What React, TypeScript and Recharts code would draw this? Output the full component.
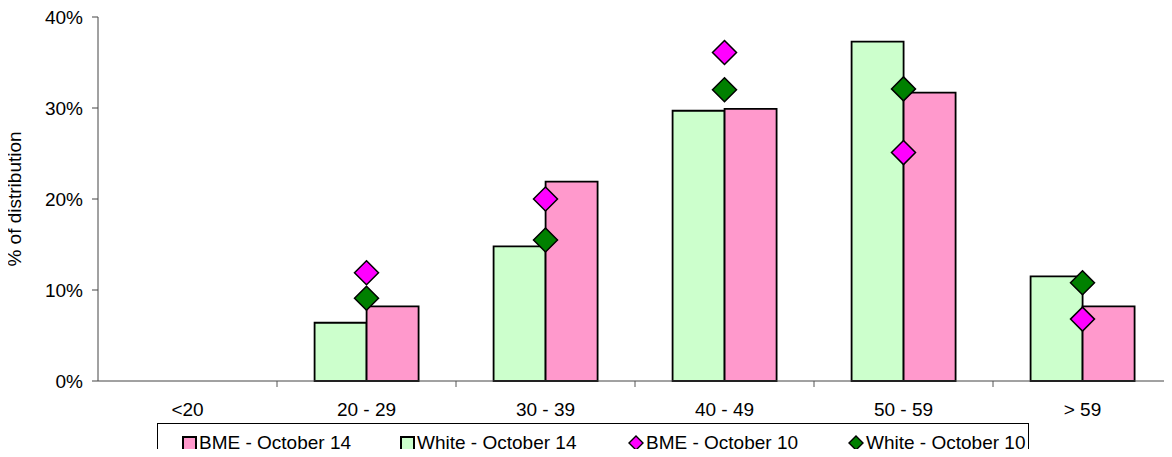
import React from "react";
import { ComposedChart, Bar, Line, XAxis, YAxis } from "recharts";

const categories = ["<20", "20 - 29", "30 - 39", "40 - 49", "50 - 59", "> 59"];
const bmeOct14 = [0, 8.2, 21.9, 29.9, 31.7, 8.2];
const whiteOct14 = [0, 6.4, 14.8, 29.7, 37.3, 11.5];
const bmeOct10: (number | null)[] = [null, 11.9, 20.0, 36.1, 25.1, 6.8];
const whiteOct10: (number | null)[] = [null, 9.1, 15.5, 32.0, 32.1, 10.8];
const yTicks = [0, 10, 20, 30, 40];

const FONT = "'Liberation Sans', Arial, sans-serif";
const FS = 19;
const W = 1172;
const H = 457;
const Y_AXIS_W = 98;
const BAND = (W - Y_AXIS_W) / categories.length;

const PINK = "#FF99CC";
const LIGHT_GREEN = "#CCFFCC";
const MAGENTA = "#FF00FF";
const DARK_GREEN = "#008000";

const data = categories.map((cat, i) => ({
  cat,
  bme14: bmeOct14[i],
  white14: whiteOct14[i],
  bme10: bmeOct10[i],
  white10: whiteOct10[i],
}));

// eslint-disable-next-line @typescript-eslint/no-explicit-any
const diamond = (fill: string) => (props: any) => {
  const { cx, cy, value, index } = props;
  if (cx == null || cy == null || value == null) return <g key={`d-${index}`} />;
  const r = 12;
  return (
    <path
      key={`d-${index}`}
      d={`M${cx},${cy - r} L${cx + r},${cy} L${cx},${cy + r} L${cx - r},${cy} Z`}
      fill={fill}
      stroke="#000"
      strokeWidth={1.5}
    />
  );
};

// eslint-disable-next-line @typescript-eslint/no-explicit-any
const CategoryTick = (props: any) => {
  const { x, y, payload } = props;
  const axisY = y - 8;
  return (
    <g>
      <line
        x1={x + BAND / 2}
        x2={x + BAND / 2}
        y1={axisY}
        y2={axisY + 6}
        stroke="#555"
        strokeWidth={1}
      />
      <text
        x={x}
        y={y + 27}
        textAnchor="middle"
        fill="#000"
        fontSize={FS}
        fontFamily={FONT}
      >
        {payload.value}
      </text>
    </g>
  );
};

const Swatch = ({ fill }: { fill: string }) => (
  <svg width={15} height={15} style={{ marginRight: 2 }}>
    <rect x={1} y={1} width={13} height={13} fill={fill} stroke="#000" strokeWidth={2} />
  </svg>
);

const DiamondSwatch = ({ fill }: { fill: string }) => (
  <svg width={16} height={16} style={{ marginRight: 2 }}>
    <path d="M8,1 L15,8 L8,15 L1,8 Z" fill={fill} stroke="#000" strokeWidth={1.4} />
  </svg>
);

const legendItems = [
  { label: "BME - October 14", marker: <Swatch fill={PINK} />, left: 24 },
  { label: "White - October 14", marker: <Swatch fill={LIGHT_GREEN} />, left: 242 },
  { label: "BME - October 10", marker: <DiamondSwatch fill={MAGENTA} />, left: 470 },
  { label: "White - October 10", marker: <DiamondSwatch fill={DARK_GREEN} />, left: 690 },
];

export default function App() {
  return (
    <div
      style={{
        position: "relative",
        width: W,
        height: H,
        margin: -8,
        background: "#fff",
        fontFamily: FONT,
        overflow: "hidden",
      }}
    >
      <div
        style={{
          position: "absolute",
          top: -18,
          left: 0,
          width: 1146,
          textAlign: "center",
          fontSize: FS,
          color: "#000",
        }}
      >
        Age distribution at October 10 and October 14
      </div>
      <ComposedChart
        width={W}
        height={H}
        data={data}
        margin={{ top: 17, right: 0, left: 0, bottom: 46 }}
        barGap={0}
        barCategoryGap="21%"
      >
        <XAxis
          dataKey="cat"
          height={30}
          tickLine={false}
          axisLine={{ stroke: "#444" }}
          tick={<CategoryTick />}
          interval={0}
        />
        <YAxis
          domain={[0, 40]}
          ticks={yTicks}
          tickFormatter={(v: number) => `${v}%`}
          width={Y_AXIS_W}
          axisLine={{ stroke: "#444" }}
          tickLine={{ stroke: "#444" }}
          tickSize={6}
          tick={{ fill: "#000", fontSize: FS, fontFamily: FONT, dx: -7 }}
          label={{
            value: "% of distribution",
            angle: -90,
            position: "center",
            dx: -35,
            style: { fill: "#000", fontSize: FS, fontFamily: FONT },
          }}
        />
        <Bar
          dataKey="white14"
          name="White - October 14"
          fill={LIGHT_GREEN}
          stroke="#000"
          strokeWidth={1.8}
          isAnimationActive={false}
        />
        <Bar
          dataKey="bme14"
          name="BME - October 14"
          fill={PINK}
          stroke="#000"
          strokeWidth={1.8}
          isAnimationActive={false}
        />
        <Line
          dataKey="white10"
          name="White - October 10"
          stroke="none"
          dot={diamond(DARK_GREEN)}
          activeDot={false}
          isAnimationActive={false}
        />
        <Line
          dataKey="bme10"
          name="BME - October 10"
          stroke="none"
          dot={diamond(MAGENTA)}
          activeDot={false}
          isAnimationActive={false}
        />
      </ComposedChart>
      <div
        style={{
          position: "absolute",
          left: 157,
          top: 423,
          width: 870,
          height: 32,
          border: "1px solid #000",
          fontSize: FS,
          color: "#000",
        }}
      >
        {legendItems.map((item) => (
          <div
            key={item.label}
            style={{
              position: "absolute",
              left: item.left,
              top: 3,
              height: 32,
              display: "flex",
              alignItems: "center",
              whiteSpace: "nowrap",
            }}
          >
            {item.marker}
            <span>{item.label}</span>
          </div>
        ))}
      </div>
    </div>
  );
}
